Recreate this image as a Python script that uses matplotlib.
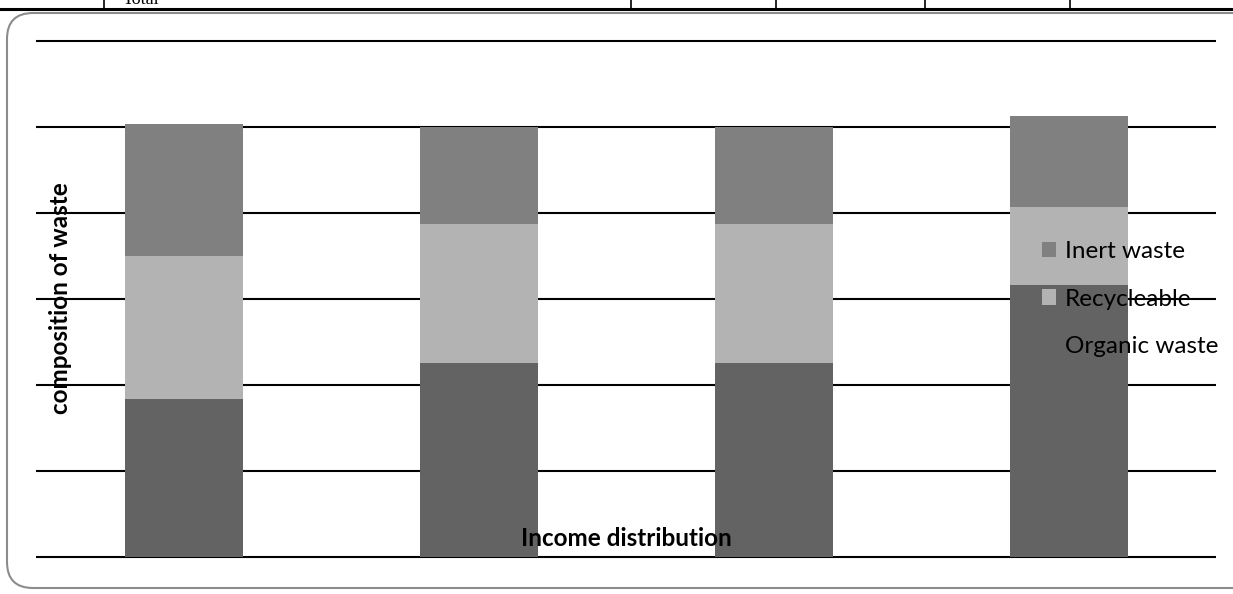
import matplotlib.pyplot as plt
from matplotlib.patches import FancyBboxPatch
from matplotlib.lines import Line2D
from matplotlib.transforms import IdentityTransform

# waste composition (%) for each income group
groups = ['Low', 'Lower middle', 'Upper middle', 'High']
organic = [36.7, 45.1, 45.1, 63.3]
recycleable = [33.4, 32.3, 32.3, 18.2]
inert = [30.5, 22.6, 22.6, 21.1]

c_org = '#636363'
c_rec = '#b3b3b3'
c_ine = '#808080'

W, H = 1233, 594
fig = plt.figure(figsize=(W / 100, H / 100), dpi=100)

# bottom edge of the table above the chart
fig.add_artist(Line2D([0, 1], [1 - 9 / H, 1 - 9 / H], color='black', lw=2.2))
for xv in [104, 631, 776, 925, 1070]:
    fig.add_artist(Line2D([xv / W, xv / W], [1 - 9 / H, 1], color='black', lw=1.2))
fig.text(123 / W, 1 - 4 / H, 'Total', family='Liberation Serif', fontsize=13,
         va='baseline', ha='left')

# rounded chart frame (pixel units)
frame = FancyBboxPatch((7, 6), 1260, 575,
                       boxstyle='round,pad=0,rounding_size=26',
                       transform=IdentityTransform(), fill=False,
                       edgecolor='#8c8c8c', lw=1.5)
fig.add_artist(frame)

ax = fig.add_axes([36 / W, (H - 557) / H, (1216 - 36) / W, (557 - 41) / H])
x = range(len(groups))
b1 = ax.bar(x, organic, 0.4, color=c_org, zorder=2, label='Organic waste')
b2 = ax.bar(x, recycleable, 0.4, bottom=organic, color=c_rec, zorder=2,
            label='Recycleable')
bottom3 = [o + r for o, r in zip(organic, recycleable)]
b3 = ax.bar(x, inert, 0.4, bottom=bottom3, color=c_ine, zorder=2,
            label='Inert waste')

ax.set_xlim(-0.5, 3.5)
ax.set_ylim(0, 120)
ax.hlines(range(0, 121, 20), -0.5, 3.5, color='black', lw=1.5, zorder=1,
          clip_on=False)
ax.tick_params(left=False, bottom=False, labelleft=False, labelbottom=False)
for s in ax.spines.values():
    s.set_visible(False)

lab_font = dict(family='Lato', fontsize=17.5, fontweight='bold')
fig.text(61 / W, 1 - 298 / H, 'composition of waste', rotation=90,
         ha='center', va='center', **lab_font)
fig.text(626 / W, 1 - 539 / H, 'Income distribution', ha='center',
         va='center', zorder=5, **lab_font)

leg = ax.legend([b3, b2, b1], ['Inert waste', 'Recycleable', 'Organic waste'],
                loc='center left', bbox_to_anchor=((1032 - 36) / 1180, 1 - (299 - 41) / 516),
                frameon=False, prop=dict(family='Lato', size=17.5),
                handlelength=0.6, handleheight=0.6, handletextpad=0.35,
                labelspacing=1.08, borderaxespad=0)
leg.set_zorder(3)

fig.savefig('out.png', dpi=100)
